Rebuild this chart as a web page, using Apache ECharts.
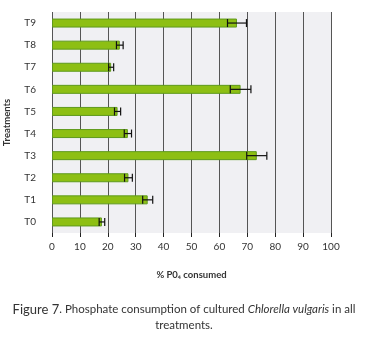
<!DOCTYPE html>
<html>
<head>
<meta charset="utf-8">
<script src="https://cdn.jsdelivr.net/npm/echarts@6/dist/echarts.min.js"></script>
<style>
  html, body { margin: 0; padding: 0; background: #fff; }
  #chart { width: 368px; height: 345px; }
</style>
</head>
<body>
<div id="chart"></div>
<script>
const treatments = ["T0", "T1", "T2", "T3", "T4", "T5", "T6", "T7", "T8", "T9"];
const consumed = [17.9, 34.3, 27.4, 73.4, 27.2, 23.5, 67.6, 21.2, 24.3, 66.3];
const errors = [1.0, 1.8, 1.4, 3.6, 1.3, 1.1, 3.7, 0.9, 1.2, 3.4];
const xTicks = [0, 10, 20, 30, 40, 50, 60, 70, 80, 90, 100];

const chart = echarts.init(document.getElementById("chart"));
const font = "Lato, 'DejaVu Sans', sans-serif";

// [categoryIndex, low, high] for the error bars
const errorData = consumed.map((v, i) => [i, v - errors[i], v + errors[i]]);

const options = {
  animation: false,
  textStyle: { fontFamily: font },
  grid: {
    left: 52,
    right: 37,
    top: 12,
    height: 221,
    containLabel: false,
    outerBoundsMode: "none",
  },
  xAxis: {
    type: "value",
    min: xTicks[0],
    max: xTicks[xTicks.length - 1],
    interval: 10,
    name: "% P0\u2084 consumed",
    nameLocation: "middle",
    nameGap: 37,
    nameTextStyle: { fontSize: 9.5, fontWeight: "bold", color: "#333", fontFamily: font },
    axisLine: { lineStyle: { color: "#222", width: 1.2 } },
    axisTick: { show: true, length: 4, lineStyle: { color: "#222" } },
    axisLabel: { color: "#333", fontSize: 10, margin: 9 },
    splitLine: { show: true, lineStyle: { color: "#555", width: 1 } },
  },
  yAxis: {
    type: "category",
    data: treatments,
    name: "Treatments",
    nameLocation: "middle",
    nameGap: 40,
    nameRotate: 90,
    nameTextStyle: { fontSize: 9.5, fontWeight: "bold", color: "#333", fontFamily: font },
    axisLine: { show: false },
    axisTick: { show: false },
    axisLabel: { color: "#333", fontSize: 10, margin: 16 },
    splitArea: { show: false },
  },
  graphic: [
    {
      type: "rect",
      shape: { x: 52, y: 12, width: 279, height: 221 },
      style: { fill: "#f0f0f3" },
      z: -10,
      silent: true,
    },
  ],
  title: [
    {
      text: "{b|Figure 7}{n|. Phosphate consumption of cultured }{i|Chlorella vulgaris}{n| in all}",
      left: "center",
      top: 298,
      textStyle: {
        fontWeight: "normal",
        rich: {
          b: { fontSize: 13, color: "#333", fontWeight: "normal", fontFamily: font },
          n: { fontSize: 11.5, color: "#333", fontWeight: "normal", fontFamily: font },
          i: { fontSize: 11.5, color: "#333", fontWeight: "normal", fontStyle: "italic", fontFamily: font },
        },
      },
    },
    {
      text: "treatments.",
      left: "center",
      top: 314,
      textStyle: { fontSize: 11.5, fontWeight: "normal", color: "#333", fontFamily: font },
    },
  ],
  series: [
    {
      type: "bar",
      data: consumed,
      barWidth: 9,
      itemStyle: { color: "#8dbf13", borderColor: "#5f9a1c", borderWidth: 1 },
      z: 2,
    },
    {
      type: "custom",
      data: errorData,
      z: 3,
      renderItem: (params, api) => {
        const cat = api.value(0);
        const lo = api.coord([api.value(1), cat]);
        const hi = api.coord([api.value(2), cat]);
        const h = 4;
        const style = { stroke: "#111", lineWidth: 1.2 };
        return {
          type: "group",
          children: [
            { type: "line", shape: { x1: lo[0], y1: lo[1], x2: hi[0], y2: hi[1] }, style },
            { type: "line", shape: { x1: lo[0], y1: lo[1] - h, x2: lo[0], y2: lo[1] + h }, style },
            { type: "line", shape: { x1: hi[0], y1: hi[1] - h, x2: hi[0], y2: hi[1] + h }, style },
          ],
        };
      },
    },
  ],
};

chart.setOption(options);
</script>
</body>
</html>
